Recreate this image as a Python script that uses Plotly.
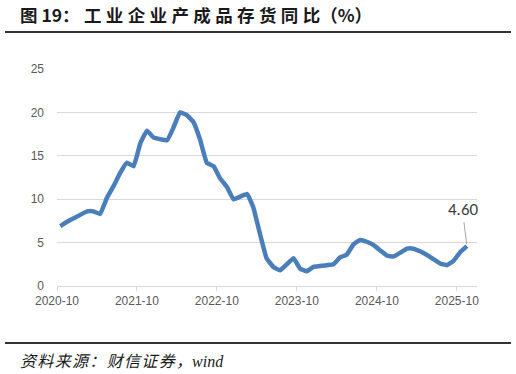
import plotly.graph_objects as go

months = ["2020-10", "2020-11", "2020-12",
          "2021-02", "2021-03", "2021-04", "2021-05", "2021-06", "2021-07", "2021-08", "2021-09", "2021-10", "2021-11", "2021-12",
          "2022-02", "2022-03", "2022-04", "2022-05", "2022-06", "2022-07", "2022-08", "2022-09", "2022-10", "2022-11", "2022-12",
          "2023-02", "2023-03", "2023-04", "2023-05", "2023-06", "2023-07", "2023-08", "2023-09", "2023-10", "2023-11", "2023-12",
          "2024-02", "2024-03", "2024-04", "2024-05", "2024-06", "2024-07", "2024-08", "2024-09", "2024-10", "2024-11", "2024-12",
          "2025-02", "2025-03", "2025-04", "2025-05", "2025-06", "2025-07", "2025-08", "2025-09", "2025-10", "2025-11"]
values = [6.9, 7.4, 7.8,
          8.6, 8.6, 8.3, 10.1, 11.5, 13.0, 14.2, 13.8, 16.4, 17.9, 17.1,
          16.8, 18.2, 20.0, 19.7, 18.9, 16.9, 14.2, 13.8, 12.4, 11.4, 10.0,
          10.6, 9.1, 6.0, 3.2, 2.2, 1.8, 2.5, 3.2, 2.0, 1.7, 2.2,
          2.4, 2.5, 3.3, 3.6, 4.8, 5.3, 5.1, 4.7, 4.1, 3.5, 3.4,
          4.3, 4.3, 4.0, 3.6, 3.1, 2.6, 2.4, 2.9, 3.9, 4.6]
tick_months = ["2020-10", "2021-10", "2022-10", "2023-10", "2024-10", "2025-10"]
y_ticks = [0, 5, 10, 15, 20, 25]
title_head = "图 19："
title_body = "工业企业产成品存货同比"
title_tail = "（%）"
source_cn = "资料来源：财信证券，"
source_en = "wind"

x_dates = [m + "-16" for m in months]


def spaced(s, sep):
    return sep.join(list(s))


fig = go.Figure()
fig.add_trace(go.Scatter(
    x=x_dates, y=values, mode="lines",
    line=dict(color="#4a7ebb", width=4.5, shape="spline", smoothing=0.3),
    hoverinfo="skip", showlegend=False,
))

fig.add_annotation(
    x=x_dates[-1], y=values[-1], xref="x", yref="y",
    text=f"{values[-1]:.2f}", showarrow=True, arrowhead=0, arrowwidth=1,
    arrowcolor="#a6a6a6", ax=-3, ay=-24, standoff=2,
    font=dict(family="Calibri, Carlito, Liberation Sans, sans-serif", size=17, color="#404040"),
    yanchor="bottom",
)

fig.update_layout(
    width=516, height=374,
    margin=dict(l=57, r=39, t=69, b=88),
    paper_bgcolor="white", plot_bgcolor="white",
    font=dict(family="Liberation Sans, sans-serif", color="#595959", size=12),
    xaxis=dict(
        type="date", range=["2020-10-01", "2026-01-01"],
        tickvals=[m + "-01" for m in tick_months], ticktext=tick_months,
        showgrid=False, zeroline=False,
        showline=True, linecolor="#d9d9d9", linewidth=1,
        ticks="outside", ticklen=4, tickcolor="#d9d9d9",
        tickfont=dict(size=12, color="#595959"),
    ),
    yaxis=dict(
        range=[0, 25], tickvals=y_ticks,
        showgrid=True, gridcolor="#d9d9d9", gridwidth=1,
        zeroline=False, showline=False, ticks="",
        ticklabelstandoff=12,
        tickfont=dict(size=12, color="#595959"),
    ),
)

# Title and source text with rules
title_text = title_head + "\u2005" + spaced(title_body, "\u2005") + title_tail
fig.add_annotation(
    xref="paper", yref="paper", x=(18 - 57) / 420, y=1 + (69 - 15) / 217,
    text=f"<b>{title_text}</b>", showarrow=False, xanchor="left", yanchor="middle",
    font=dict(family="Noto Sans CJK SC, sans-serif", size=17.5, color="#1a1a1a"),
)
fig.add_annotation(
    xref="paper", yref="paper", x=(18 - 57) / 420, y=-(361 - 286) / 217,
    text=f"<i>{spaced(source_cn, chr(0x200a))}{source_en}</i>", showarrow=False,
    xanchor="left", yanchor="middle",
    font=dict(family="Liberation Serif, Noto Sans CJK SC, serif", size=16, color="#1a1a1a"),
)
fig.layout.shapes = [
    dict(type="line", xref="paper", yref="paper",
         x0=(5 - 57) / 420, x1=(511 - 57) / 420,
         y0=1 + (69 - 32) / 217, y1=1 + (69 - 32) / 217,
         line=dict(color="#333333", width=2)),
    dict(type="line", xref="paper", yref="paper",
         x0=(5 - 57) / 420, x1=(511 - 57) / 420,
         y0=-(343 - 286) / 217, y1=-(343 - 286) / 217,
         line=dict(color="#333333", width=2)),
]

fig.write_html("out.html")
